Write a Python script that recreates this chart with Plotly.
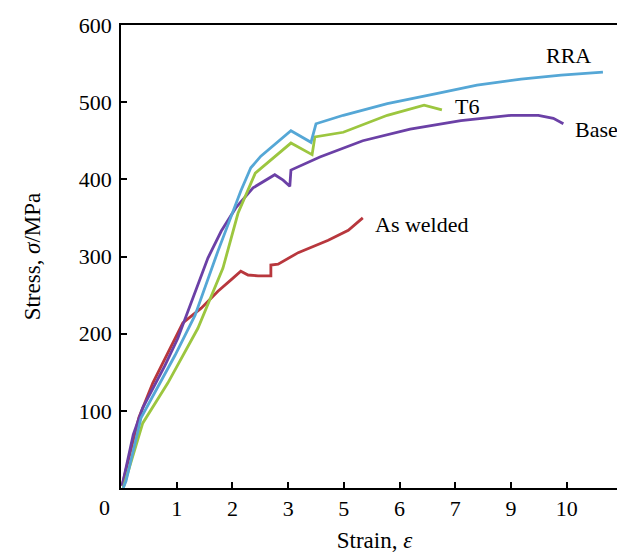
import plotly.graph_objects as go

# Data (x in axis-tick units, y in MPa)
rra_x = [0.04, 0.09, 0.36, 0.66, 0.97, 1.33, 1.74, 2.15, 2.33, 2.51, 3.05, 3.41, 3.50, 3.99, 4.78, 5.66, 6.39, 7.18, 7.90, 8.65]
rra_y = [0, 9, 91, 130, 172, 224, 307, 385, 415, 430, 463, 448, 472, 483, 498, 511, 522, 530, 535, 539]

t6_x = [0.04, 0.39, 0.84, 1.38, 1.83, 2.10, 2.41, 3.05, 3.43, 3.48, 3.99, 4.78, 5.44, 5.76]
t6_y = [0, 84, 136, 207, 285, 356, 408, 447, 432, 455, 461, 483, 496, 490]

base_x = [0.02, 0.22, 0.39, 0.79, 1.02, 1.20, 1.56, 1.80, 2.06, 2.37, 2.76, 2.91, 3.03, 3.05, 3.57, 4.34, 5.19, 6.10, 7.00, 7.49, 7.76, 7.94]
base_y = [3, 69, 104, 159, 194, 229, 298, 333, 363, 389, 406, 399, 391, 412, 429, 450, 465, 476, 483, 483, 479, 472]

weld_x = [0.02, 0.18, 0.32, 0.57, 0.84, 1.11, 1.44, 1.74, 2.01, 2.15, 2.28, 2.46, 2.69, 2.69, 2.82, 3.18, 3.72, 4.08, 4.34]
weld_y = [3, 52, 91, 136, 175, 214, 233, 255, 272, 281, 276, 275, 275, 289, 290, 305, 321, 334, 350]

x_tickvals = [1, 2, 3, 4, 5, 6, 7, 8]
x_ticktext = ["1", "2", "3", "5", "6", "7", "9", "10"]
y_tickvals = [100, 200, 300, 400, 500, 600]

series = [
    ("As welded", weld_x, weld_y, "#B8373D"),
    ("Base", base_x, base_y, "#6B40A6"),
    ("T6", t6_x, t6_y, "#9CC63F"),
    ("RRA", rra_x, rra_y, "#55A7D6"),
]

FONT = "Liberation Serif"

fig = go.Figure()
for name, xs, ys, col in series:
    fig.add_trace(go.Scatter(x=xs, y=ys, mode="lines", name=name,
                             line=dict(color=col, width=2.8), showlegend=False))

labels = [
    ("RRA", 8.03, 561, "center"),
    ("T6", 6.21, 494, "center"),
    ("Base", 8.53, 465, "center"),
    ("As welded", 4.52, 341, "left"),
]
for txt, lx, ly, anc in labels:
    fig.add_annotation(x=lx, y=ly, xref="x", yref="y", text=txt, showarrow=False,
                       xanchor=anc, yanchor="middle",
                       font=dict(family=FONT, size=22, color="black"))

fig.add_annotation(x=-0.0316, y=-0.043, xref="paper", yref="paper", text="0",
                   showarrow=False, xanchor="center", yanchor="middle",
                   font=dict(family=FONT, size=22, color="black"))

fig.update_layout(
    width=625, height=553,
    margin=dict(l=113, r=5, t=17, b=73),
    paper_bgcolor="white", plot_bgcolor="white",
    font=dict(family=FONT, size=22, color="black"),
    xaxis=dict(range=[0, 9.10], tickvals=x_tickvals, ticktext=x_ticktext,
               ticks="inside", ticklen=6, tickwidth=1.5, tickcolor="black",
               showline=True, linecolor="black", linewidth=1.5, mirror=True,
               showgrid=False, zeroline=False, automargin=False,
               title=dict(text="Strain, <i>ε</i>", font=dict(family=FONT, size=23), standoff=12),
               tickfont=dict(family=FONT, size=22)),
    yaxis=dict(range=[0, 600], tickvals=y_tickvals,
               ticks="inside", ticklen=6, tickwidth=1.5, tickcolor="black",
               showline=True, linecolor="black", linewidth=1.5, mirror=True,
               showgrid=False, zeroline=False, automargin=False,
               ticklabelstandoff=3,
               title=dict(text="Stress, <i>σ</i>/MPa", font=dict(family=FONT, size=23), standoff=32),
               tickfont=dict(family=FONT, size=22)),
)

fig.write_html("out.html")
